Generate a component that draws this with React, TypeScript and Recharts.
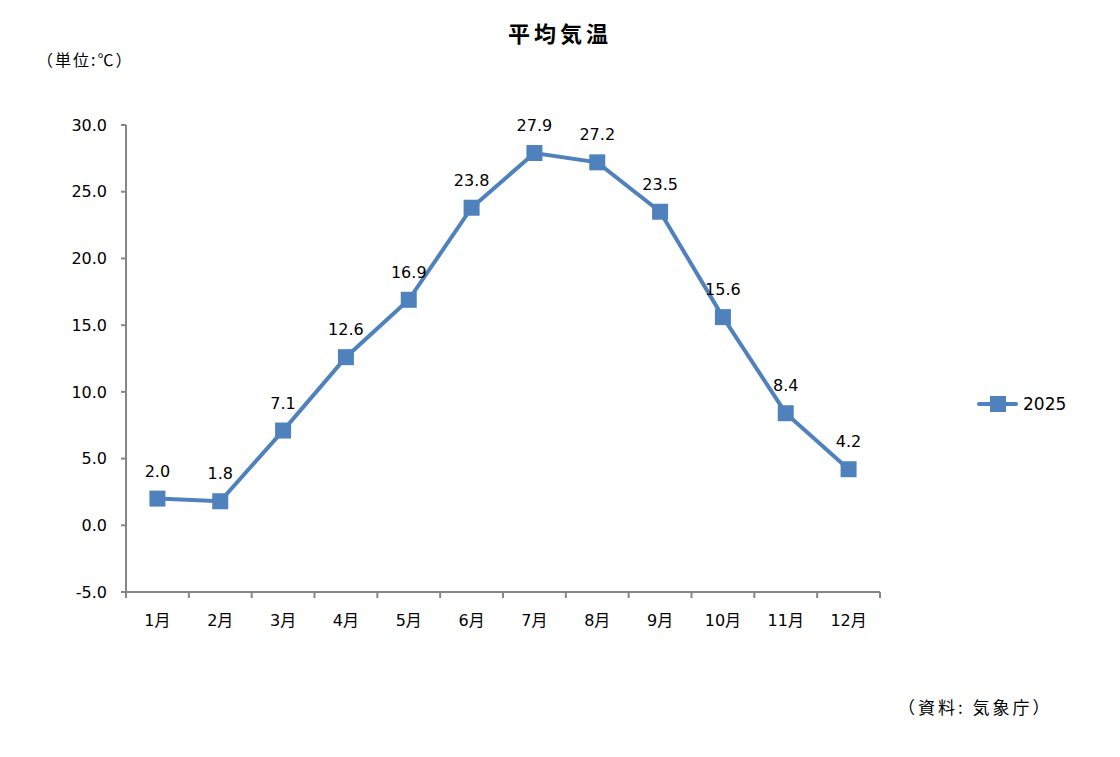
import React from 'react';
import { LineChart, Line, XAxis, YAxis, Legend, LabelList } from 'recharts';

// 平均気温 (2025)
const months = ['1月', '2月', '3月', '4月', '5月', '6月', '7月', '8月', '9月', '10月', '11月', '12月'];
const temps2025 = [2.0, 1.8, 7.1, 12.6, 16.9, 23.8, 27.9, 27.2, 23.5, 15.6, 8.4, 4.2];
const yTicks = [-5, 0, 5, 10, 15, 20, 25, 30];
const seriesName = '2025';

const data = months.map((m, i) => ({ month: m, value: temps2025[i] }));

const FONT = "'DejaVu Sans', 'Noto Sans CJK JP', sans-serif";
const JP_FONT = "'Noto Sans CJK JP', sans-serif";
const LINE_COLOR = '#4F81BD';
const AXIS_COLOR = '#868686';

const PLOT_LEFT = 126;
const PLOT_RIGHT = 880;
const BAND = (PLOT_RIGHT - PLOT_LEFT) / months.length;

const SquareDot = (props: any) => {
  const { cx, cy } = props;
  if (cx == null || cy == null) return null;
  return <rect x={cx - 8} y={cy - 8} width={16} height={16} fill={LINE_COLOR} />;
};

const MonthTick = (props: any) => {
  const { x, y, payload, index } = props;
  const left = x - BAND / 2;
  return (
    <g>
      <line x1={left} y1={y} x2={left} y2={y + 6} stroke={AXIS_COLOR} strokeWidth={2} />
      {index === months.length - 1 && (
        <line x1={x + BAND / 2} y1={y} x2={x + BAND / 2} y2={y + 6} stroke={AXIS_COLOR} strokeWidth={2} />
      )}
      <text x={x} y={y + 34} textAnchor="middle" fontSize={16} fontFamily={FONT} fill="#000">
        {payload.value}
      </text>
    </g>
  );
};

const ValueLabel = (props: any) => {
  const { x, y, value } = props;
  return (
    <text x={x} y={y - 22} textAnchor="middle" fontSize={16} fontFamily={FONT} fill="#000">
      {Number(value).toFixed(1)}
    </text>
  );
};

const renderLegend = () => (
  <div style={{ display: 'flex', alignItems: 'center', fontFamily: FONT, fontSize: 17, color: '#000' }}>
    <svg width={42} height={20}>
      <line x1={3} y1={10} x2={40} y2={10} stroke={LINE_COLOR} strokeWidth={4} strokeLinecap="round" />
      <rect x={14} y={2} width={16} height={16} fill={LINE_COLOR} />
    </svg>
    <span style={{ marginLeft: 5 }}>{seriesName}</span>
  </div>
);

export default function App() {
  return (
    <div style={{ position: 'relative', width: 1120, height: 757, margin: '-8px 0 0 -8px', background: '#fff', fontFamily: FONT }}>
      <div style={{ position: 'absolute', left: 0, width: 1120, top: 16, textAlign: 'center', fontSize: 22, fontWeight: 'bold', letterSpacing: 4, fontFamily: JP_FONT }}>
        平均気温
      </div>
      <div style={{ position: 'absolute', left: 37, top: 47, fontSize: 16, letterSpacing: 2, fontFamily: JP_FONT, whiteSpace: 'nowrap' }}>
        （単位:℃）
      </div>
      <div style={{ position: 'absolute', left: 898, top: 694, fontSize: 17, letterSpacing: 3, fontFamily: JP_FONT, whiteSpace: 'nowrap' }}>
        （資料: 気象庁）
      </div>
      <LineChart width={1120} height={757} data={data} margin={{ top: 125, right: 130, bottom: 125, left: 60 }}>
        <XAxis
          dataKey="month"
          scale="band"
          height={40}
          axisLine={{ stroke: AXIS_COLOR, strokeWidth: 2 }}
          tickLine={false}
          tickSize={0}
          tickMargin={0}
          tick={<MonthTick />}
          interval={0}
        />
        <YAxis
          width={66}
          domain={[-5, 30]}
          ticks={yTicks}
          allowDataOverflow
          axisLine={{ stroke: AXIS_COLOR, strokeWidth: 2 }}
          tickLine={{ stroke: AXIS_COLOR, strokeWidth: 2 }}
          tickSize={5}
          tickMargin={14}
          tickFormatter={(v: number) => v.toFixed(1)}
          tick={{ fontSize: 16, fontFamily: FONT, fill: '#000' }}
        />
        <Legend
          layout="vertical"
          align="right"
          verticalAlign="middle"
          content={renderLegend}
          wrapperStyle={{ position: 'absolute', left: 976, top: 394, width: 110, height: 20 }}
        />
        <Line
          type="linear"
          dataKey="value"
          name={seriesName}
          stroke={LINE_COLOR}
          strokeWidth={4}
          dot={<SquareDot />}
          activeDot={false}
          isAnimationActive={false}
        >
          <LabelList dataKey="value" content={<ValueLabel />} />
        </Line>
      </LineChart>
    </div>
  );
}
